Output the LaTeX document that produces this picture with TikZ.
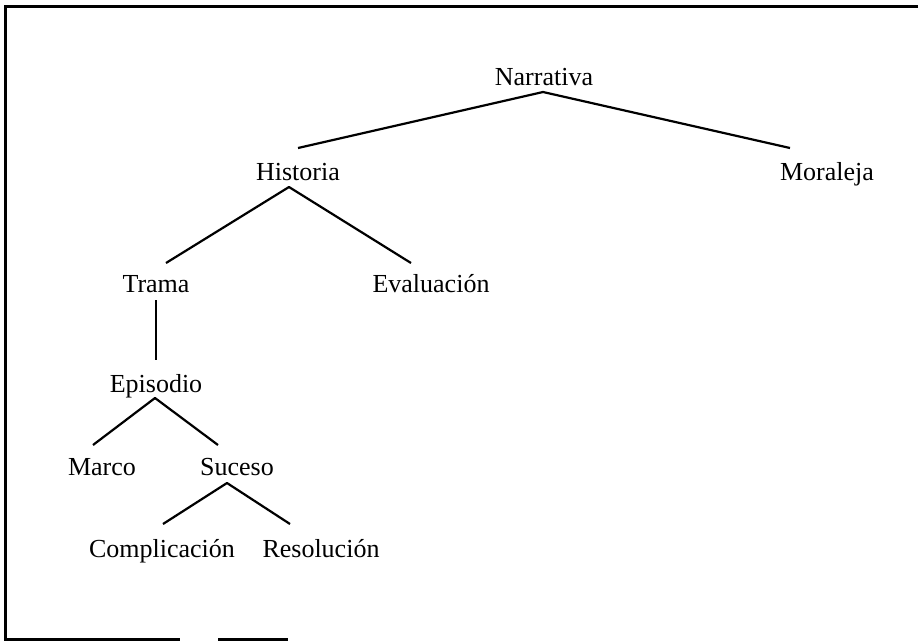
\documentclass[tikz,border=0pt]{standalone}
\usepackage{fontspec}
\setmainfont{Liberation Serif}
\begin{document}
\begin{tikzpicture}[x=1pt,y=-1pt,
  lbl/.style={font=\fontsize{26}{30}\selectfont, inner sep=0pt, anchor=base},
  edge/.style={line width=2.2pt, line join=round},
  frame/.style={line width=3pt}]
\useasboundingbox (0,0) rectangle (921,641);
% frame (open on the right, broken at the bottom)
\coordinate (f1) at (5,6);
\coordinate (f2) at (918,6);
\coordinate (f3) at (5,639);
\coordinate (f4) at (180,639);
\coordinate (f5) at (218,639);
\coordinate (f6) at (288,639);
\draw[frame] (f2) -- (f1) -- (f3) -- (f4);
\draw[frame] (f5) -- (f6);
% labels
\node[lbl] (narr) at (544,85) {Narrativa};
\node[lbl] (hist) at (298,180) {Historia};
\node[lbl] (mor) at (827,180) {Moraleja};
\node[lbl] (tram) at (156,292) {Trama};
\node[lbl] (eval) at (431,292) {Evaluación};
\node[lbl] (epi) at (156,392) {Episodio};
\node[lbl] (mar) at (102,475) {Marco};
\node[lbl] (suc) at (237,475) {Suceso};
\node[lbl] (comp) at (162,557) {Complicación};
\node[lbl] (res) at (321,557) {Resolución};
% branch points
\coordinate (narrT) at (543,92);
\coordinate (histB) at (298,148);
\coordinate (morB) at (790,148);
\coordinate (histT) at (289,187);
\coordinate (tramB) at (166,263);
\coordinate (evalB) at (411,263);
\coordinate (tramT) at (156,300);
\coordinate (epiB) at (156,360);
\coordinate (epiT) at (155,398);
\coordinate (marB) at (93,445);
\coordinate (sucB) at (218,445);
\coordinate (sucT) at (227,483);
\coordinate (compB) at (163,524);
\coordinate (resB) at (290,524);
% connectors
\draw[edge] (histB) -- (narrT) -- (morB);
\draw[edge] (tramB) -- (histT) -- (evalB);
\draw[edge] (tramT) -- (epiB);
\draw[edge] (marB) -- (epiT) -- (sucB);
\draw[edge] (compB) -- (sucT) -- (resB);
\end{tikzpicture}
\end{document}
